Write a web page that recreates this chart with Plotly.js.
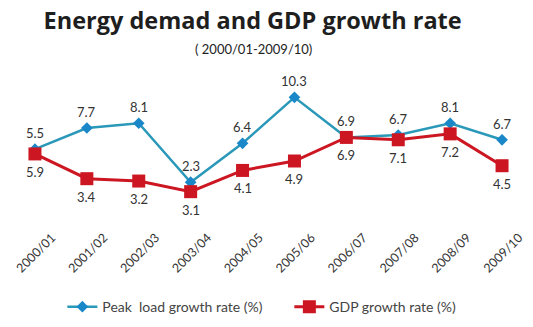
<!DOCTYPE html>
<html>
<head>
<meta charset="utf-8">
<script src="https://cdn.plot.ly/plotly-3.0.1.min.js"></script>
<style>html,body{margin:0;padding:0;background:#fff;}#chart{width:533px;height:327px;}</style>
</head>
<body>
<div id="chart"></div>
<script>
var categories = ["2000/01","2001/02","2002/03","2003/04","2004/05","2005/06","2006/07","2007/08","2008/09","2009/10"];
var peakLoad = [5.9, 7.7, 8.1, 3.1, 6.4, 10.3, 6.9, 7.1, 8.1, 6.7];
var gdpGrowth = [5.5, 3.4, 3.2, 2.3, 4.1, 4.9, 6.9, 6.7, 7.2, 4.5];
// which series' label sits above the pair at each year ("peak" or "gdp")
var labelAbove = ["gdp","peak","peak","gdp","peak","peak","peak","gdp","peak","peak"];

var font = "Lato, 'Open Sans', sans-serif";
var blueLine = "#2a98b8", blueMarker = "#1a88c8", red = "#cc1622";

var traces = [
  {x: categories, y: peakLoad, name: "Peak\u00a0 load growth rate (%)", type: "scatter", mode: "lines+markers",
   line: {color: blueLine, width: 2.5}, marker: {symbol: "diamond", size: 9, color: blueMarker}},
  {x: categories, y: gdpGrowth, name: "GDP growth rate (%)", type: "scatter", mode: "lines+markers",
   line: {color: red, width: 3}, marker: {symbol: "square", size: 13, color: red}}
];

var annotations = [];
categories.forEach(function(c, i){
  var hi = Math.max(peakLoad[i], gdpGrowth[i]);
  var lo = Math.min(peakLoad[i], gdpGrowth[i]);
  var topVal = labelAbove[i] === "peak" ? peakLoad[i] : gdpGrowth[i];
  var botVal = labelAbove[i] === "peak" ? gdpGrowth[i] : peakLoad[i];
  annotations.push({x: c, y: hi, text: topVal.toFixed(1), showarrow: false, yshift: 16,
    font: {family: font, size: 13, color: "#333"}});
  annotations.push({x: c, y: lo, text: botVal.toFixed(1), showarrow: false, yshift: -18,
    font: {family: font, size: 13, color: "#333"}});
});
annotations.push({xref: "paper", yref: "paper", x: 0.472, y: 1.23, yanchor: "middle", text: "( 2000/01-2009/10)",
  showarrow: false, font: {family: font, size: 13, color: "#222"}});

var layout = {
  width: 533, height: 327,
  margin: {l: 9, r: 5, t: 80, b: 112},
  paper_bgcolor: "#fff", plot_bgcolor: "#fff",
  title: {text: "<b>Energy demad and GDP growth rate</b>", x: 0.474, xanchor: "center", y: 0.935, yanchor: "middle",
    font: {family: "'Open Sans', sans-serif", size: 23.5, color: "#1e1e1e"}},
  xaxis: {type: "category", range: [-0.5, 9.5], showgrid: false, zeroline: false, showline: false,
    tickangle: -45, ticks: "", ticklabelshift: 17, ticklabelstandoff: 12,
    tickfont: {family: font, size: 12.5, color: "#333"}},
  yaxis: {range: [0.32, 11.77], showgrid: false, zeroline: false, showline: false, showticklabels: false, ticks: ""},
  showlegend: true,
  legend: {orientation: "h", xref: "container", x: 0.117, xanchor: "left", yref: "container", y: 0.061, yanchor: "middle",
    entrywidth: 182, font: {family: font, size: 14, color: "#444"}, bgcolor: "rgba(0,0,0,0)"},
  annotations: annotations
};

Plotly.newPlot("chart", traces, layout, {displayModeBar: false, staticPlot: true});
</script>
</body>
</html>
